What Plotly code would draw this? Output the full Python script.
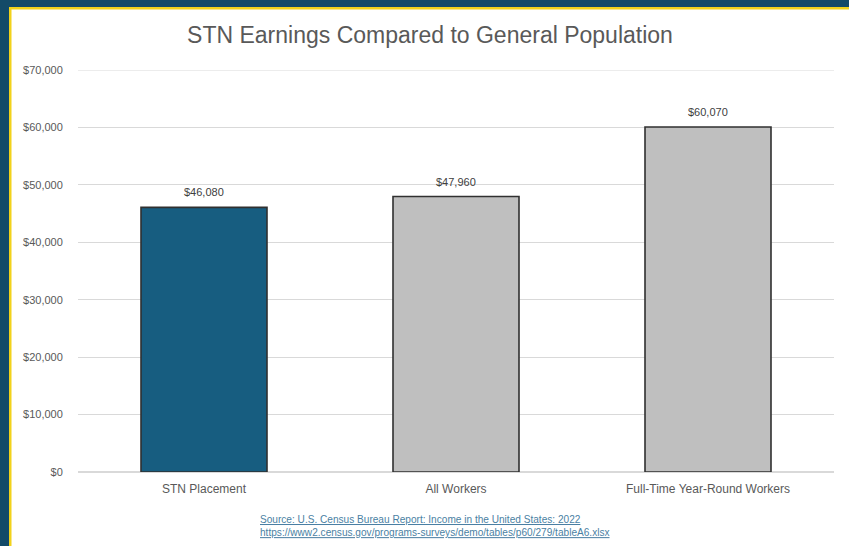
import plotly.graph_objects as go

categories = ["STN Placement", "All Workers", "Full-Time Year-Round Workers"]
earnings = [46080, 47960, 60070]
bar_colors = ["#175d80", "#bfbfbf", "#bfbfbf"]
tick_vals = [0, 10000, 20000, 30000, 40000, 50000, 60000, 70000]
tick_text = ["$0", "$10,000", "$20,000", "$30,000", "$40,000", "$50,000", "$60,000", "$70,000"]
labels = ["${:,}".format(v) for v in earnings]

W, H = 849, 546
ml, mr, mt, mb = 78, 15, 70, 74
pw, ph = W - ml - mr, H - mt - mb

def px(x):
    return (x - ml) / pw

def py(y):
    return (H - mb - y) / ph

fig = go.Figure(go.Bar(
    x=categories, y=earnings,
    marker=dict(color=bar_colors, line=dict(color="#303030", width=1.6)),
    cliponaxis=False,
))

shapes = [
    dict(type="rect", xref="paper", yref="paper", x0=px(0), x1=px(W), y0=py(0), y1=py(9),
         fillcolor="#134a68", line_width=0, layer="below"),
    dict(type="rect", xref="paper", yref="paper", x0=px(0), x1=px(11), y0=py(0), y1=py(H),
         fillcolor="#134a68", line_width=0, layer="below"),
    dict(type="rect", xref="paper", yref="paper", x0=px(9), x1=px(W), y0=py(7), y1=py(9.5),
         fillcolor="#f2d21b", line_width=0, layer="below"),
    dict(type="rect", xref="paper", yref="paper", x0=px(9), x1=px(11.5), y0=py(7), y1=py(H),
         fillcolor="#f2d21b", line_width=0, layer="below"),
    dict(type="line", xref="paper", yref="y", x0=0, x1=1, y0=tick_vals[-1], y1=tick_vals[-1],
         line=dict(color="#d9d9d9", width=1), layer="below"),
]

annotations = [
    dict(x=c, y=v, xref="x", yref="y", text=t, showarrow=False, yanchor="middle", yshift=15,
         font=dict(size=11, color="#404040", family="Liberation Sans, Arial"))
    for c, v, t in zip(categories, earnings, labels)
]
annotations.append(dict(
    xref="paper", yref="paper", x=px(258), y=py(526), xanchor="left", yanchor="middle",
    text="<u>Source: U.S. Census Bureau Report: Income in the United States: 2022</u><br>"
         "<u>https://www2.census.gov/programs-surveys/demo/tables/p60/279/tableA6.xlsx</u>",
    showarrow=False, align="left",
    font=dict(size=10.1, color="#4a7fa3", family="Liberation Sans, Arial"),
))

fig.update_layout(
    width=W, height=H,
    paper_bgcolor="white", plot_bgcolor="white",
    margin=dict(l=ml, r=mr, t=mt, b=mb),
    title=dict(text="STN Earnings Compared to General Population", x=px(430), xref="paper",
               xanchor="center", y=1 - 35 / H, yanchor="middle",
               font=dict(size=23, color="#595959", family="Liberation Sans, Arial")),
    bargap=0.5,
    showlegend=False,
    shapes=shapes,
    yaxis=dict(range=[0, 70000], tickvals=tick_vals, ticktext=tick_text,
               gridcolor="#d9d9d9", gridwidth=1, zeroline=True, zerolinecolor="#d9d9d9",
               tickfont=dict(size=11, color="#595959", family="Liberation Sans, Arial"),
               ticklen=12, tickcolor="rgba(0,0,0,0)", ticks="outside"),
    xaxis=dict(tickfont=dict(size=12, color="#595959", family="Liberation Sans, Arial"),
               ticks="outside", ticklen=6, tickcolor="rgba(0,0,0,0)"),
    font=dict(family="Liberation Sans, Arial"),
    annotations=annotations,
)

fig.write_html("out.html", config={"displayModeBar": False},
               post_script="document.body.style.margin='0px';")
